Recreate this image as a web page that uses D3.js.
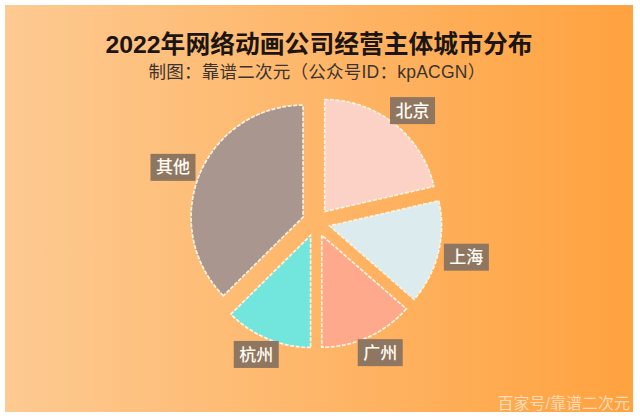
<!DOCTYPE html>
<html>
<head>
<meta charset="utf-8">
<script src="https://cdn.jsdelivr.net/npm/d3@7"></script>
<style>
    html, body { margin: 0; padding: 0; background: #fff; }
    svg { display: block; }
    text { font-family: "Liberation Sans", "Noto Sans CJK SC", sans-serif; }
</style>
</head>
<body>
<svg></svg>
<script>
// Chart data
const cities = ["北京", "上海", "广州", "杭州", "其他"];
const shares = [21.4, 15, 13.6, 12.6, 37.4];
const sliceColors = ["#fdd2c6", "#dcecee", "#ffa98c", "#72e5dc", "#a9968f"];

const title = "2022年网络动画公司经营主体城市分布";
const subtitle = "制图：靠谱二次元（公众号ID：kpACGN）";
const watermark = "百家号/靠谱二次元";

const WIDTH = 640;
const HEIGHT = 420;
const CENTER_X = 316;
const CENTER_Y = 222.5;
const RADIUS = 112;
const EXPLODE = 14;
// Labels sit on an ellipse around the pie
const LABEL_RADIUS_X = 155;
const LABEL_RADIUS_Y = 143;

const svg = d3.select("svg")
    .attr("width", WIDTH)
    .attr("height", HEIGHT);

// Background gradient
const gradient = svg.append("defs")
    .append("linearGradient")
    .attr("id", "bg");
gradient.append("stop").attr("offset", "0%").attr("stop-color", "#fdca92");
gradient.append("stop").attr("offset", "100%").attr("stop-color", "#ffa23f");

svg.append("rect")
    .attr("x", 5)
    .attr("y", 5)
    .attr("width", 628)
    .attr("height", 407)
    .attr("fill", "url(#bg)");

// Title
svg.append("text")
    .attr("x", 319)
    .attr("y", 53)
    .attr("text-anchor", "middle")
    .attr("font-size", 24.8)
    .attr("font-weight", 700)
    .attr("fill", "#1c1512")
    .text(title);

svg.append("text")
    .attr("x", 317)
    .attr("y", 78)
    .attr("text-anchor", "middle")
    .attr("font-size", 17.5)
    .attr("letter-spacing", 0.25)
    .attr("fill", "#3b3430")
    .text(subtitle);

// Pie
const pie = d3.pie().sort(null);
const arc = d3.arc().innerRadius(0).outerRadius(RADIUS);
const arcs = pie(shares);

const plot = svg.append("g")
    .attr("transform", "translate(" + CENTER_X + "," + CENTER_Y + ")");

// Unit vector through the middle of a slice
function midVector(d) {
    const mid = (d.startAngle + d.endAngle) / 2;
    return [Math.sin(mid), -Math.cos(mid)];
}

plot.selectAll("path")
    .data(arcs)
    .enter().append("path")
    .attr("d", arc)
    .attr("transform", function (d) {
        const v = midVector(d);
        return "translate(" + (v[0] * EXPLODE) + "," + (v[1] * EXPLODE) + ")";
    })
    .attr("fill", function (d, i) { return sliceColors[i]; })
    .attr("stroke", "#fff3e2")
    .attr("stroke-width", 1.7)
    .attr("stroke-dasharray", "4 1.5");

// Labels with brown boxes
const labels = plot.selectAll("g.label")
    .data(arcs)
    .enter().append("g")
    .attr("class", "label")
    .attr("transform", function (d) {
        const v = midVector(d);
        return "translate(" + (v[0] * LABEL_RADIUS_X) + "," + (v[1] * LABEL_RADIUS_Y) + ")";
    });

labels.append("rect")
    .attr("x", -22.5)
    .attr("y", -13.5)
    .attr("width", 45)
    .attr("height", 27)
    .attr("fill", "#8f7660");

labels.append("text")
    .attr("text-anchor", "middle")
    .attr("dy", "0.36em")
    .attr("font-size", 17)
    .attr("font-weight", 500)
    .attr("fill", "#fffaf2")
    .text(function (d, i) { return cities[i]; });

// Watermark
svg.append("text")
    .attr("x", 630)
    .attr("y", 409)
    .attr("text-anchor", "end")
    .attr("font-size", 16)
    .attr("fill", "#ffdcb6")
    .text(watermark);
</script>
</body>
</html>
